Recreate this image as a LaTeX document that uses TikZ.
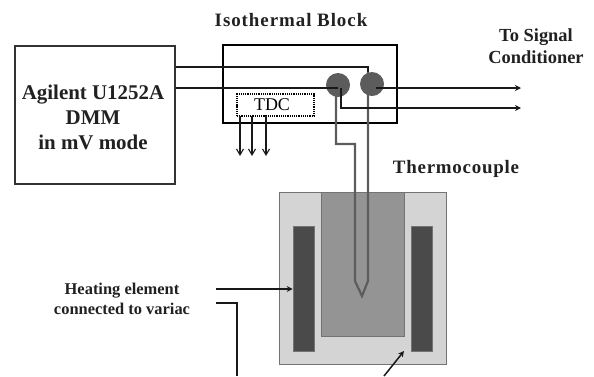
\documentclass[tikz,border=0pt]{standalone}
\usepackage{fontspec}
\setmainfont{Liberation Serif}
\usetikzlibrary{arrows.meta}
\definecolor{lite}{gray}{0.83}
\definecolor{midg}{gray}{0.58}
\definecolor{dark}{gray}{0.29}
\definecolor{wire}{gray}{0.36}
\definecolor{txt}{gray}{0.13}
\tikzset{
  x=1bp,y=-1bp,
  lbl/.style={font=\bfseries,text=txt,inner sep=0pt,align=center},
  ln/.style={draw=black!90,line width=1.5pt},
  arr/.style={ln,-{Stealth[length=6bp,width=6bp]}},
  thin arr/.style={draw=black!90,line width=1.1pt,-{Straight Barb[length=6bp,width=7bp]}},
  tc/.style={draw=wire,line width=2.2pt},
  shade box/.style={draw=black!55,line width=0.7pt},
}
\begin{document}
\begin{tikzpicture}
\useasboundingbox[fill=white] (0,0) rectangle (594,376);
% furnace
\node[shade box,fill=lite,minimum width=167bp,minimum height=172bp,inner sep=0pt] (outer) at (362.5,278) {};
\node[shade box,fill=midg,minimum width=83bp,minimum height=144bp,inner sep=0pt] (inner) at (362.5,264) {};
\node[shade box,fill=dark,minimum width=21bp,minimum height=125bp,inner sep=0pt] (heatL) at (303.5,288.5) {};
\node[shade box,fill=dark,minimum width=21bp,minimum height=125bp,inner sep=0pt] (heatR) at (421.5,288.5) {};
% isothermal block
\node[draw=black,line width=2.2pt,minimum width=174bp,minimum height=78bp,inner sep=0pt] (iso) at (310,84) {};
\node[draw=black,densely dotted,line width=1.2pt,minimum width=77bp,minimum height=22bp,inner sep=0pt] (tdc) at (275.5,105) {};
\node[lbl,text=black,font=\fontsize{18}{18}\selectfont] at (272,105) {TDC};
% DMM
\node[draw=black!80,line width=1.3pt,minimum width=160bp,minimum height=138bp,inner sep=0pt] (dmm) at (95,115) {};
\node[lbl,font=\bfseries\fontsize{21}{25}\selectfont] at (93,117) {Agilent U1252A\\DMM\\in mV mode};
% junctions
\node[circle,fill=wire,minimum size=24bp,inner sep=0pt] (jL) at (338,85) {};
\node[circle,fill=wire,minimum size=24bp,inner sep=0pt] (jR) at (372,84) {};
% thermocouple
\coordinate (tip) at (362,296);
\draw[tc,line join=miter] (336,92) -- (336,144) -- (355,144) -- (355,281) -- (tip) -- (368,281) -- (368,72);
% wires
\draw[ln] (dmm.east|-0,67) -- (368,67) -- (368,72);
\draw[ln] (dmm.east|-0,88) -- (338,88);
\coordinate (endA) at (521,88);
\coordinate (endB) at (521,108);
\draw[arr] (376,88) -- (endA);
\draw[arr] (341,88) -- (341,108) -- (endB);
% TDC outputs
\coordinate (d1) at (240,156);\coordinate (d2) at (252,156);\coordinate (d3) at (266,156);
\draw[thin arr] (240,116) -- (d1);
\draw[thin arr] (252,116) -- (d2);
\draw[thin arr] (266,116) -- (d3);
% heating
\coordinate (h1) at (216,289);
\coordinate (h2) at (216,303);
\coordinate (h3) at (237,376);
\coordinate (f1) at (384,376);
\draw[arr] (h1) -- (heatL.west|-h1);
\draw[ln] (h2) -- (237,303) -- (h3);
\draw[arr] (f1) -- (404,351);
% labels
\node[lbl,font=\bfseries\fontsize{19}{19}\selectfont\addfontfeature{LetterSpace=5}] at (291,20) {Isothermal Block};
\node[lbl,font=\bfseries\fontsize{18.5}{22}\selectfont] at (536,46) {To Signal\\Conditioner};
\node[lbl,font=\bfseries\fontsize{19}{19}\selectfont\addfontfeature{LetterSpace=4}] at (456,169) {Thermocouple};
\node[lbl,font=\bfseries\fontsize{16.5}{20}\selectfont] at (122,299) {Heating element\\connected to variac};
\end{tikzpicture}
\end{document}
